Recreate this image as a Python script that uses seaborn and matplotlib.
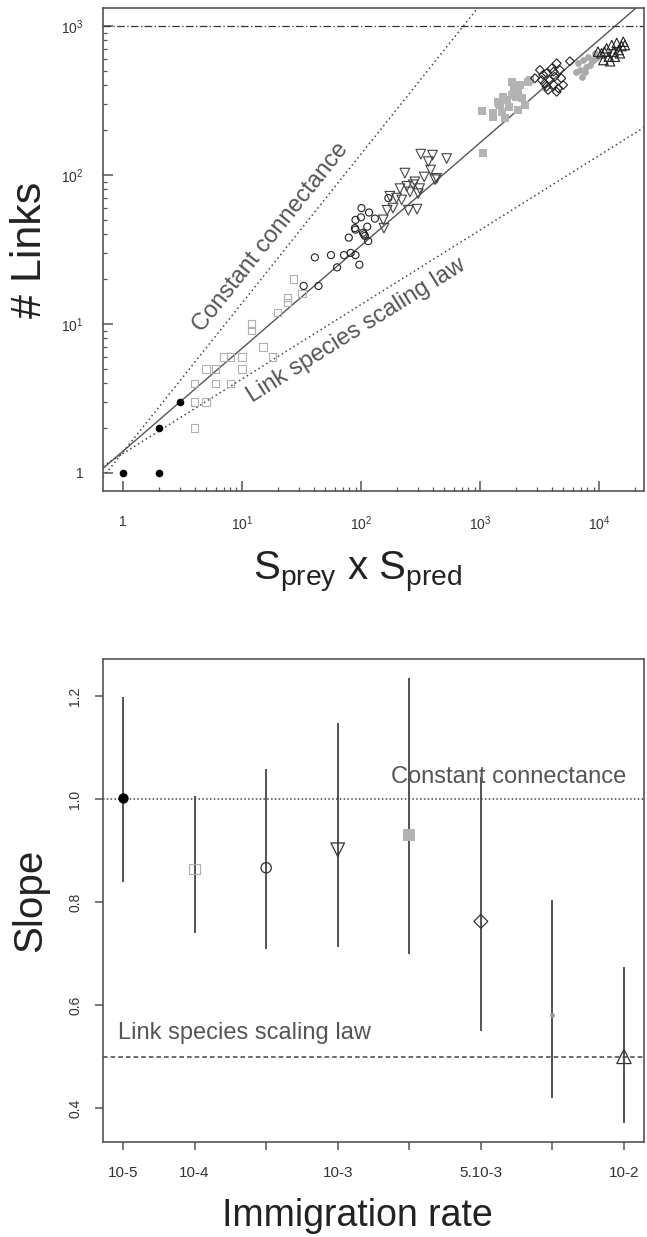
import numpy as np
import pandas as pd
import matplotlib
matplotlib.use("Agg")
import matplotlib.pyplot as plt
import matplotlib.ticker as mticker
import seaborn as sns

# ---------------- data: top panel (# links vs S_prey x S_pred) ----------------
s_g1 = [1, 2, 2, 3]
l_g1 = [1, 1, 2, 3]

s_g2 = [4, 4, 5, 4, 6, 8, 5, 6, 10, 7, 8, 10, 18, 15, 12, 12, 20, 24, 24, 32, 27]
l_g2 = [2, 3, 3, 4, 4, 4, 5, 5, 5, 6, 6, 6, 6, 7, 9, 10, 12, 14, 15, 16, 20]

s_g3 = [33, 44, 41, 56, 63, 72, 82, 90, 97, 79, 90, 90, 101, 100, 117, 113,
        104, 108, 106, 115, 131, 89, 170]
l_g3 = [18, 18, 28, 29, 24, 29, 30, 29, 25, 38, 43, 50, 60, 52, 56, 45,
        41, 39, 40, 36, 51, 44, 70]

s_g4 = [318, 400, 525, 368, 385, 234, 284, 340, 419, 213, 243, 275, 303, 175,
        199, 250, 296, 166, 433, 154, 156, 220, 258, 311, 186]
l_g4 = [138, 136, 129, 123, 108, 103, 90, 97, 93, 81, 84, 86, 75, 72,
        70, 58, 59, 58, 95, 50, 44, 68, 77, 81, 60]

s_g5 = [1040, 1279, 1521, 1622, 1453, 1680, 1846, 1932, 1846, 2099, 2240, 2390,
        2099, 2547, 1058, 1420, 1740, 2164, 2008, 1564, 1295, 1473, 2640]
l_g5 = [268, 244, 266, 240, 300, 319, 344, 382, 423, 362, 327, 295,
        272, 423, 141, 310, 287, 402, 334, 334, 260, 295, 435]

s_g6 = [2900, 3190, 3630, 4010, 4410, 4700, 4240, 3870, 3500, 4160, 4550, 3740,
        3300, 4830, 5700, 5000, 4410, 3400, 4160, 3630]
l_g6 = [446, 507, 482, 520, 562, 507, 457, 434, 412, 402, 382, 372,
        434, 446, 580, 402, 362, 470, 494, 392]

s_g7 = [6700, 7350, 8130, 8660, 6900, 7800, 7140, 9200, 9500, 6400, 8400, 7600, 8900]
l_g7 = [562, 591, 622, 580, 507, 533, 457, 656, 607, 494, 547, 494, 591]

s_g8 = [10500, 11600, 12800, 14100, 15500, 16500, 13300, 12100, 10900, 14600,
        16000, 12400, 11100, 13600, 15000, 9800]
l_g8 = [656, 708, 745, 770, 733, 745, 673, 622, 591, 690,
        785, 580, 673, 622, 656, 673]

# reference / fitted power laws: L = coef * (S_prey x S_pred) ** exponent
fit_coef, fit_exp = 1.4, 0.69
cc_coef, cc_exp = 1.38, 1.0          # constant connectance
lssl_coef, lssl_exp = 1.35, 0.5      # link species scaling law
max_links = 1000

top_xticks = [1, 10, 100, 1000, 10000]
top_yticks = [1, 10, 100, 1000]

# ---------------- data: bottom panel (slope vs immigration rate) ----------------
imm_labels = ["10-5", "10-4", "", "10-3", "", "5.10-3", "", "10-2"]
slope_est = [1.003, 0.865, 0.867, 0.902, 0.931, 0.763, 0.582, 0.501]
slope_lo = [0.840, 0.741, 0.709, 0.713, 0.700, 0.551, 0.421, 0.372]
slope_hi = [1.199, 1.007, 1.058, 1.147, 1.235, 1.044, 0.804, 0.675]
slope_yticks = [0.4, 0.6, 0.8, 1.0, 1.2]

# ---------------- style ----------------
sns.set_theme(style="ticks")
plt.rcParams["font.family"] = ["Liberation Sans", "DejaVu Sans"]
plt.rcParams["mathtext.fontset"] = "custom"
plt.rcParams["mathtext.rm"] = "Liberation Sans"
plt.rcParams["mathtext.it"] = "Liberation Sans"

SPINE = "#555555"
TXT = "#555555"
LINE = "#444444"

W, H = 647, 1237
fig = plt.figure(figsize=(W / 100, H / 100), dpi=100)
ax1 = fig.add_axes([103 / W, 1 - 491 / H, 541 / W, 483 / H])
ax2 = fig.add_axes([103 / W, 1 - 1142 / H, 541 / W, 483 / H])

for ax in (ax1, ax2):
    for sp in ax.spines.values():
        sp.set_visible(True)
        sp.set_color(SPINE)
        sp.set_linewidth(1.2)


def pts(ax, x, y, marker, s, face, edge, lw=0.8, z=3):
    sns.scatterplot(x=x, y=y, ax=ax, marker=marker, s=s, facecolor=face,
                    edgecolor=edge, linewidth=lw, legend=False, zorder=z)


# ---------------- top panel ----------------
ax1.set_xscale("log")
ax1.set_yscale("log")
xlim = (0.68, 23900)
ylim = (0.757, 1321)
ax1.set_xlim(*xlim)
ax1.set_ylim(*ylim)

xs = np.logspace(np.log10(xlim[0]), np.log10(xlim[1]), 200)
ax1.plot(xs, fit_coef * xs ** fit_exp, color="#555555", lw=1.0, zorder=2)
ax1.plot(xs, cc_coef * xs ** cc_exp, color=LINE, lw=1.1, ls=(0, (1, 2)), zorder=2)
ax1.plot(xs, lssl_coef * xs ** lssl_exp, color=LINE, lw=1.1, ls=(0, (1, 2)), zorder=2)
ax1.axhline(max_links, color="#333333", lw=0.9, ls=(0, (6, 2, 1, 2)), zorder=2)

pts(ax1, s_g2, l_g2, "s", 28, "none", "#b0b0b0")
pts(ax1, s_g3, l_g3, "o", 26, "none", "#222222")
pts(ax1, s_g4, l_g4, "v", 48, "none", "#444444")
pts(ax1, s_g5, l_g5, "s", 30, "#b3b3b3", "#b3b3b3", lw=0)
pts(ax1, s_g6, l_g6, "D", 20, "none", "#222222")
pts(ax1, s_g7, l_g7, "o", 24, "#aaaaaa", "#aaaaaa", lw=0)
pts(ax1, s_g8, l_g8, "^", 46, "none", "#222222")
pts(ax1, s_g1, l_g1, "o", 30, "#000000", "#000000", lw=0, z=4)


def pow_fmt(v, pos):
    e = int(round(np.log10(v)))
    return "1" if e == 0 else r"$\mathregular{10^{%d}}$" % e


ax1.xaxis.set_major_locator(mticker.FixedLocator(top_xticks))
ax1.yaxis.set_major_locator(mticker.FixedLocator(top_yticks))
ax1.xaxis.set_major_formatter(mticker.FuncFormatter(pow_fmt))
ax1.yaxis.set_major_formatter(mticker.FuncFormatter(pow_fmt))
minor = [k * 10 ** d for d in range(0, 5) for k in range(2, 10)]
ax1.xaxis.set_minor_locator(mticker.FixedLocator(minor))
ax1.yaxis.set_minor_locator(mticker.FixedLocator(minor))
ax1.xaxis.set_minor_formatter(mticker.NullFormatter())
ax1.yaxis.set_minor_formatter(mticker.NullFormatter())
ax1.tick_params(which="major", direction="in", length=7, width=1.1, color=SPINE,
                labelsize=10, labelcolor="#333333")
ax1.tick_params(which="minor", direction="in", length=3, width=0.9, color=SPINE)
ax1.tick_params(axis="x", which="major", pad=17)
ax1.tick_params(axis="y", which="major", pad=14)

ax1.set_ylabel("# Links", fontsize=31, color="#222222", va="center")
ax1.yaxis.set_label_coords(-0.135, 0.5)
ax1.set_xlabel(r"$\mathregular{S_{prey}}$ x $\mathregular{S_{pred}}$",
               fontsize=29, color="#222222", va="baseline")
ax1.xaxis.set_label_coords(0.47, -0.184)


def line_angle(ax, coef, expo, x0):
    p1 = ax.transData.transform((x0, coef * x0 ** expo))
    p2 = ax.transData.transform((x0 * 10, coef * (x0 * 10) ** expo))
    return np.degrees(np.arctan2(p2[1] - p1[1], p2[0] - p1[0]))


ax1.text(17.5, 38, "Constant connectance", fontsize=17, color=TXT,
         rotation=line_angle(ax1, cc_coef, cc_exp, 10), rotation_mode="anchor",
         ha="center", va="center")
ax1.text(91, 9.1, "Link species scaling law", fontsize=17, color=TXT,
         rotation=line_angle(ax1, lssl_coef, lssl_exp, 10), rotation_mode="anchor",
         ha="center", va="center")

# ---------------- bottom panel ----------------
pos = np.arange(1, len(imm_labels) + 1)
ax2.set_xlim(0.72, 8.28)
ax2.set_ylim(0.335, 1.272)
ax2.axhline(1.0, color=LINE, lw=1.1, ls=(0, (1, 1.5)), zorder=1)
ax2.axhline(0.5, color=LINE, lw=1.1, ls=(0, (3, 2)), zorder=1)
ax2.vlines(pos, slope_lo, slope_hi, color="#444444", lw=1.3, zorder=2)

styles = [("o", 55, "#000000", "#000000", 0),
          ("s", 55, "none", "#b0b0b0", 0.9),
          ("o", 55, "none", "#333333", 0.9),
          ("v", 95, "none", "#333333", 0.9),
          ("s", 65, "#b3b3b3", "#b3b3b3", 0),
          ("D", 50, "none", "#333333", 0.9),
          ("o", 12, "#999999", "#999999", 0),
          ("^", 105, "none", "#333333", 0.9)]
for i, (m, s, fc, ec, lw) in enumerate(styles):
    pts(ax2, [pos[i]], [slope_est[i]], m, s, fc, ec, lw=lw)

ax2.text(4.75, 1.032, "Constant connectance", fontsize=17, color=TXT,
         ha="left", va="baseline", zorder=4)
ax2.text(0.93, 0.535, "Link species scaling law", fontsize=17, color=TXT,
         ha="left", va="baseline", zorder=4)

ax2.set_xticks(pos)
ax2.set_xticklabels(imm_labels)
ax2.set_yticks(slope_yticks)
ax2.set_yticklabels([f"{v:.1f}" for v in slope_yticks])
ax2.tick_params(direction="out", length=6, width=1.1, color=SPINE,
                labelcolor="#333333")
ax2.tick_params(axis="x", labelsize=11, pad=11)
ax2.tick_params(axis="y", labelsize=10, pad=9)
for lab in ax2.get_yticklabels():
    lab.set_rotation(90)
    lab.set_va("center")

ax2.set_ylabel("Slope", fontsize=29, color="#222222", va="center")
ax2.yaxis.set_label_coords(-0.135, 0.5)
ax2.set_xlabel("Immigration rate", fontsize=27, color="#222222", va="baseline")
ax2.xaxis.set_label_coords(0.47, -0.174)

fig.savefig("out.png", dpi=100, facecolor="white")
